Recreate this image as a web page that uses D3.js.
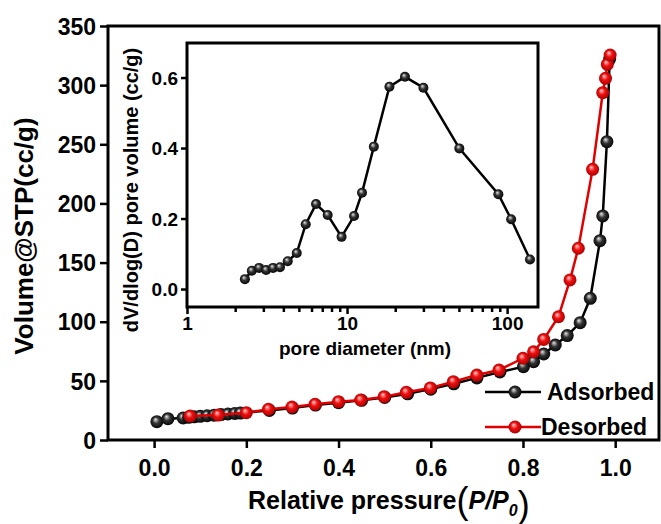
<!DOCTYPE html>
<html>
<head>
<meta charset="utf-8">
<script src="https://cdn.jsdelivr.net/npm/d3@7"></script>
<style>
  body { margin: 0; background: #fff; }
  svg { display: block; font-family: "Liberation Sans", Arial, sans-serif; font-weight: bold; }
</style>
</head>
<body>
<svg id="chart" width="661" height="524"></svg>
<script>
// isotherm, adsorption branch
const adsP = [0.006, 0.03, 0.063, 0.075, 0.087, 0.10, 0.115, 0.13, 0.145, 0.16, 0.175, 0.187,
  0.25, 0.30, 0.35, 0.40, 0.45, 0.50, 0.55, 0.60, 0.65, 0.70, 0.75,
  0.801, 0.823, 0.845, 0.870, 0.896, 0.924, 0.946, 0.967, 0.973, 0.982, 0.988];
const adsV = [15.5, 18, 18.6, 19.2, 19.6, 20, 20.5, 21, 21.5, 22, 22.5, 22.8,
  25, 27, 29.5, 31.5, 33.5, 36, 39, 43, 47.5, 52.5, 57.5,
  62, 66.2, 72.7, 80.3, 88.3, 99.2, 119.8, 168.5, 189.4, 252.2, 322];
// desorption branch
const desP = [0.078, 0.139, 0.200, 0.248, 0.299, 0.349, 0.400, 0.448, 0.499, 0.547, 0.599, 0.649,
  0.700, 0.748, 0.800, 0.823, 0.845, 0.877, 0.902, 0.920, 0.951, 0.973, 0.979, 0.983, 0.989];
const desV = [20.3, 21.1, 23.1, 26.0, 27.9, 30.2, 32.4, 33.8, 36.6, 40.3, 44.0, 49.3,
  54.9, 59.2, 69.1, 74.6, 85.0, 104.2, 135.3, 162.1, 228.8, 293.6, 305.8, 317.6, 325.5];
// pore size distribution (inset)
const poreD = [2.30, 2.54, 2.82, 3.12, 3.45, 3.81, 4.26, 4.85, 5.52, 6.40, 7.57, 9.24,
  11.06, 12.4, 14.7, 18.4, 23.0, 30.0, 50.3, 88.2, 106, 139];
const poreV = [0.028, 0.052, 0.060, 0.054, 0.060, 0.062, 0.079, 0.102, 0.184, 0.241, 0.210, 0.148,
  0.207, 0.273, 0.404, 0.574, 0.602, 0.571, 0.399, 0.269, 0.198, 0.084];

const xTicks = [0, 0.2, 0.4, 0.6, 0.8, 1.0];
const yTicks = [0, 50, 100, 150, 200, 250, 300, 350];
const insetYTicks = [0, 0.2, 0.4, 0.6];
const insetXTicks = [1, 10, 100];
const legendNames = ["Adsorbed", "Desorbed"];

const svg = d3.select("#chart");

// gradients for the shiny ball markers
const defs = svg.append("defs");
function ball(id, hi, mid, lo) {
  const g = defs.append("radialGradient").attr("id", id)
    .attr("cx", "0.5").attr("cy", "0.5").attr("r", "0.55")
    .attr("fx", "0.38").attr("fy", "0.32");
  g.append("stop").attr("offset", "0%").attr("stop-color", hi);
  g.append("stop").attr("offset", "45%").attr("stop-color", mid);
  g.append("stop").attr("offset", "100%").attr("stop-color", lo);
}
ball("gBlack", "#e8e8e8", "#333", "#000");
ball("gRed", "#ffd0d0", "#f01010", "#a00000");

// main plot
const M = { left: 108, top: 26, right: 659, bottom: 440 };
const x = d3.scaleLinear().domain([-0.1, 1.095]).range([M.left, M.right]);
const y = d3.scaleLinear().domain([0, 350]).range([M.bottom, M.top]);

const xAxis = svg.append("g").attr("transform", `translate(0,${M.bottom})`)
  .call(d3.axisBottom(x).tickValues(xTicks).tickFormat(d3.format(".1f")).tickSize(8).tickPadding(6));
const yAxis = svg.append("g").attr("transform", `translate(${M.left},0)`)
  .call(d3.axisLeft(y).tickValues(yTicks).tickSize(8).tickPadding(4));
[xAxis, yAxis].forEach(a => {
  a.select(".domain").remove();
  a.selectAll("line").attr("stroke", "#000").attr("stroke-width", 2.5);
  a.selectAll("text").attr("fill", "#000").style("font-size", "23px")
    .style("font-family", "Liberation Sans, Arial, sans-serif").style("font-weight", "bold");
});
xAxis.selectAll("text").attr("dy", "0.95em");
yAxis.selectAll("text").attr("dy", "0.36em");

svg.append("rect")
  .attr("x", M.left).attr("y", M.top)
  .attr("width", M.right - M.left).attr("height", M.bottom - M.top)
  .attr("fill", "none").attr("stroke", "#000").attr("stroke-width", 3);

function series(px, py, color, grad, r, sx, sy, w) {
  const pts = px.map((d, i) => [sx(d), sy(py[i])]);
  svg.append("path").attr("d", d3.line()(pts))
    .attr("fill", "none").attr("stroke", color).attr("stroke-width", w);
  svg.append("g").selectAll("circle").data(pts).join("circle")
    .attr("cx", d => d[0]).attr("cy", d => d[1]).attr("r", r)
    .attr("fill", `url(#${grad})`);
}

series(adsP, adsV, "#000", "gBlack", 6.5, x, y, 2.5);
series(desP, desV, "#e00000", "gRed", 6.5, x, y, 2.5);

// legend
const legend = [
  { name: legendNames[0], color: "#000", grad: "gBlack", ly: 392, tx: 547 },
  { name: legendNames[1], color: "#e00000", grad: "gRed", ly: 427, tx: 541 }
];
legend.forEach(l => {
  svg.append("line").attr("x1", 485).attr("x2", 541).attr("y1", l.ly).attr("y2", l.ly)
    .attr("stroke", l.color).attr("stroke-width", 2.5);
  svg.append("circle").attr("cx", 515).attr("cy", l.ly).attr("r", 6.5).attr("fill", `url(#${l.grad})`);
  svg.append("text").attr("x", l.tx).attr("y", l.ly + 8).style("font-size", "23px").text(l.name);
});

// axis titles
svg.append("text")
  .attr("transform", "translate(33,236) rotate(-90)")
  .attr("text-anchor", "middle").style("font-size", "26px")
  .text("Volume@STP(cc/g)");

const xt = svg.append("text").attr("x", 248).attr("y", 509).style("font-size", "25px");
xt.append("tspan").text("Relative pressure");
xt.append("tspan").style("font-size", "36px").style("font-weight", "normal").attr("dy", 4).text("(");
xt.append("tspan").style("font-style", "italic").attr("dy", -4).text("P/P");
xt.append("tspan").style("font-style", "italic").style("font-size", "16px").attr("dy", 7).text("0");
xt.append("tspan").style("font-size", "36px").style("font-weight", "normal").attr("dy", 1).text(")");

// inset
const I = { left: 187, top: 43, right: 538, bottom: 307 };
const ix = d3.scaleLog().domain([1, 156]).range([I.left, I.right]);
const iy = d3.scaleLinear().domain([-0.051, 0.698]).range([I.bottom, I.top]);

svg.append("rect")
  .attr("x", I.left).attr("y", I.top)
  .attr("width", I.right - I.left).attr("height", I.bottom - I.top)
  .attr("fill", "#fff");

const ixAxis = svg.append("g").attr("transform", `translate(0,${I.bottom})`)
  .call(d3.axisBottom(ix).ticks(10).tickSize(6).tickPadding(3)
    .tickFormat(d => insetXTicks.includes(d) ? d : ""));
ixAxis.selectAll(".tick line").attr("y2", d => insetXTicks.includes(d) ? 7 : 5);
const iyAxis = svg.append("g").attr("transform", `translate(${I.left},0)`)
  .call(d3.axisLeft(iy).tickValues(insetYTicks).tickFormat(d3.format(".1f")).tickSize(6).tickPadding(3));
[ixAxis, iyAxis].forEach(a => {
  a.select(".domain").remove();
  a.selectAll("line").attr("stroke", "#000").attr("stroke-width", 2.5);
  a.selectAll("text").attr("fill", "#000").style("font-size", "19px")
    .style("font-family", "Liberation Sans, Arial, sans-serif").style("font-weight", "bold");
});
ixAxis.selectAll("text").attr("dy", "0.72em");
iyAxis.selectAll("text").attr("dy", "0.36em");

svg.append("rect")
  .attr("x", I.left).attr("y", I.top)
  .attr("width", I.right - I.left).attr("height", I.bottom - I.top)
  .attr("fill", "none").attr("stroke", "#000").attr("stroke-width", 3);

series(poreD, poreV, "#000", "gBlack", 5, ix, iy, 2.5);

svg.append("text").attr("x", 365).attr("y", 355).attr("text-anchor", "middle")
  .style("font-size", "19px").text("pore diameter (nm)");
svg.append("text")
  .attr("transform", "translate(138,190) rotate(-90)")
  .attr("text-anchor", "middle").style("font-size", "20px")
  .text("dV/dlog(D) pore volume (cc/g)");
</script>
</body>
</html>
